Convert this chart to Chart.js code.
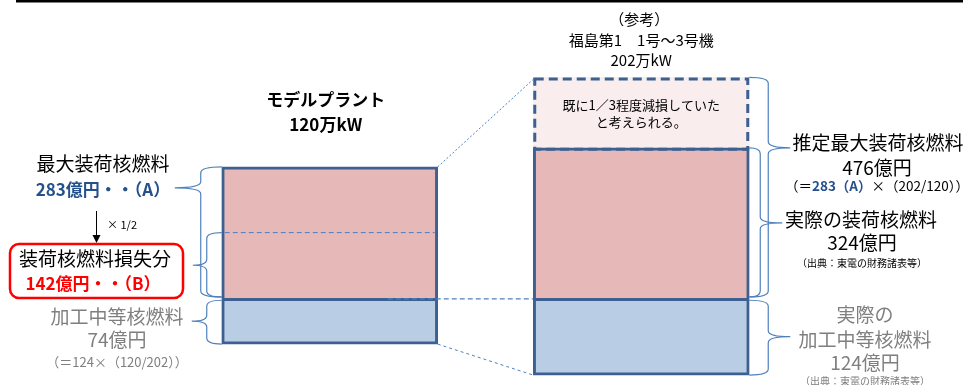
<!DOCTYPE html>
<html>
<head>
<meta charset="utf-8">
<script src="https://cdn.jsdelivr.net/npm/chart.js@4.4.1/dist/chart.umd.min.js"></script>
<style>
body{margin:0;background:#fff;}
#wrap{width:963px;height:385px;position:relative;}
</style>
</head>
<body>
<div id="wrap"><canvas id="fuelChart"></canvas></div>
<script>
// 単位: 億円
const plants = ['モデルプラント', '福島第1 1号～3号機'];
const capacity = [120, 202];          // 万kW
const loadedFuel = [283, 324];        // 装荷核燃料 (左: 最大 A, 右: 実際)
const estimatedMax = [null, 476];     // 推定最大装荷核燃料
const processedFuel = [74, 124];      // 加工中等核燃料
const lossB = 142;                    // 装荷核燃料損失分 (B)

const FONT = '"Noto Sans CJK JP", "Noto Sans", sans-serif';
const NAVY = '#3D6090';
const LINE = '#4F81BD';
const TEXT_NAVY = '#24508C';
const GRAY = '#7F7F7F';

function font(size, bold){
  return (bold ? 'bold ' : '') + size + 'px ' + FONT;
}

function txt(ctx, s, x, y, size, opt){
  opt = opt || {};
  ctx.save();
  ctx.font = font(size, opt.bold);
  ctx.fillStyle = opt.color || '#000';
  ctx.textAlign = opt.align || 'center';
  ctx.textBaseline = 'middle';
  ctx.fillText(s, x, y);
  ctx.restore();
}

// 色の違う文字列を並べて中央揃え
function txtParts(ctx, parts, cx, y, size){
  ctx.save();
  ctx.textBaseline = 'middle';
  ctx.textAlign = 'left';
  let total = 0;
  parts.forEach(p => { ctx.font = font(size, p.bold); total += ctx.measureText(p.s).width; });
  let x = cx - total / 2;
  parts.forEach(p => {
    ctx.font = font(size, p.bold);
    ctx.fillStyle = p.color || '#000';
    ctx.fillText(p.s, x, y);
    x += ctx.measureText(p.s).width;
  });
  ctx.restore();
}

function barBox(chart, ds, i){
  const el = chart.getDatasetMeta(ds).data[i];
  return {
    l: el.x - el.width / 2, r: el.x + el.width / 2,
    top: Math.min(el.y, el.base), bot: Math.max(el.y, el.base)
  };
}

function brace(ctx, x0, xv, xt, top, bot, tip){
  const r = 6;
  ctx.beginPath();
  ctx.moveTo(x0, top);
  ctx.quadraticCurveTo(xv, top, xv, top + r);
  ctx.lineTo(xv, tip - r);
  ctx.quadraticCurveTo(xv, tip, xt, tip);
  ctx.quadraticCurveTo(xv, tip, xv, tip + r);
  ctx.lineTo(xv, bot - r);
  ctx.quadraticCurveTo(xv, bot, x0, bot);
  ctx.stroke();
}

function dashLine(ctx, x1, y1, x2, y2, dash, w){
  ctx.save();
  ctx.strokeStyle = LINE;
  ctx.lineWidth = w || 1;
  ctx.setLineDash(dash);
  ctx.beginPath();
  ctx.moveTo(x1, y1);
  ctx.lineTo(x2, y2);
  ctx.stroke();
  ctx.restore();
}

const diagramPlugin = {
  id: 'diagram',
  afterDatasetsDraw(chart){
    const ctx = chart.ctx;
    const yTop = chart.scales.yTop;

    const blueL = barBox(chart, 0, 0), blueR = barBox(chart, 0, 1);
    const pinkL = barBox(chart, 1, 0), pinkR = barBox(chart, 1, 1);
    const dashR = barBox(chart, 2, 1);

    // 上の黒線
    ctx.save();
    ctx.fillStyle = '#000';
    ctx.fillRect(16, 0, chart.width - 16, 2.5);
    ctx.restore();

    // 推定最大部分の破線枠
    ctx.save();
    ctx.strokeStyle = NAVY;
    ctx.lineWidth = 3;
    ctx.setLineDash([9, 5]);
    ctx.strokeRect(dashR.l + 1.5, dashR.top + 1.5, dashR.r - dashR.l - 3, dashR.bot - dashR.top);
    ctx.restore();

    // 左の損失分の境界
    const yB = yTop.getPixelForValue(loadedFuel[0] - lossB);
    dashLine(ctx, pinkL.l + 3, yB, pinkL.r - 3, yB, [5, 3], 1);

    // 接続線
    dashLine(ctx, pinkL.r, pinkL.top, dashR.l + 1, dashR.top + 1, [2, 2], 1);
    dashLine(ctx, pinkL.r - 50, pinkL.bot + 1, pinkR.l, pinkR.bot + 1, [5, 3], 1.3);
    dashLine(ctx, blueL.r, blueL.bot, blueR.l, blueR.bot, [3, 3], 1);

    // 中かっこ
    ctx.save();
    ctx.strokeStyle = LINE;
    ctx.lineWidth = 1.2;
    brace(ctx, pinkL.l, pinkL.l - 21, pinkL.l - 47, pinkL.top, pinkL.bot - 1, pinkL.top + 21);
    brace(ctx, pinkL.l, pinkL.l - 15, pinkL.l - 29, yB, pinkL.bot - 1, (yB + pinkL.bot) / 2);
    brace(ctx, blueL.l, blueL.l - 15, blueL.l - 30, blueL.top + 2, blueL.bot, (blueL.top + blueL.bot) / 2);
    brace(ctx, dashR.r, dashR.r + 19, dashR.r + 41, dashR.top, pinkR.bot - 1, pinkR.top);
    brace(ctx, pinkR.r, pinkR.r + 11, pinkR.r + 33, pinkR.top, pinkR.bot - 1, (pinkR.top + pinkR.bot) / 2);
    brace(ctx, blueR.r, blueR.r + 19, blueR.r + 41, blueR.top + 2, blueR.bot, (blueR.top + blueR.bot) / 2);
    ctx.restore();

    // 中央タイトル
    const cxL = (pinkL.l + pinkL.r) / 2, cxR = (pinkR.l + pinkR.r) / 2;
    txt(ctx, plants[0], cxL - 4, 100, 17, {bold: true});
    txt(ctx, capacity[0] + '万kW', cxL - 4, 125, 17, {bold: true});
    txt(ctx, '（参考）', cxR - 2, 19, 15);
    txt(ctx, '福島第1　1号～3号機', cxR, 40, 15);
    txt(ctx, capacity[1] + '万kW', cxR, 60, 15);

    const cyD = (dashR.top + dashR.bot) / 2;
    txt(ctx, '既に1／3程度減損していた', cxR, cyD - 8, 13);
    txt(ctx, 'と考えられる。', cxR, cyD + 9, 13);

    // 左の説明
    txt(ctx, '最大装荷核燃料', 103, 164, 19);
    txt(ctx, loadedFuel[0] + '億円・・（A）', 103, 190, 17, {bold: true, color: TEXT_NAVY});

    ctx.save();
    ctx.strokeStyle = '#000';
    ctx.fillStyle = '#000';
    ctx.lineWidth = 1;
    ctx.beginPath();
    ctx.moveTo(96.5, 211);
    ctx.lineTo(96.5, 236);
    ctx.stroke();
    ctx.beginPath();
    ctx.moveTo(92.5, 235);
    ctx.lineTo(100.5, 235);
    ctx.lineTo(96.5, 243);
    ctx.closePath();
    ctx.fill();
    ctx.restore();
    txt(ctx, '× 1/2', 107, 225, 11, {align: 'left'});

    ctx.save();
    ctx.strokeStyle = '#FF0000';
    ctx.lineWidth = 2.5;
    ctx.beginPath();
    ctx.roundRect(10, 244, 173, 54, 9);
    ctx.stroke();
    ctx.restore();
    txt(ctx, '装荷核燃料損失分', 95, 259, 19);
    txt(ctx, lossB + '億円・・（B）', 93, 284, 17, {bold: true, color: '#FF0000'});

    txt(ctx, '加工中等核燃料', 117, 317, 19, {color: GRAY});
    txt(ctx, processedFuel[0] + '億円', 117, 340, 19, {color: GRAY});
    txt(ctx, '（＝' + processedFuel[1] + '×（' + capacity[0] + '/' + capacity[1] + '））', 117, 362, 13, {color: GRAY});

    // 右の説明
    txt(ctx, '推定最大装荷核燃料', 878, 143, 19);
    txt(ctx, estimatedMax[1] + '億円', 877, 168, 19);
    txtParts(ctx, [
      {s: '（＝'},
      {s: loadedFuel[0] + '（A）', bold: true, color: TEXT_NAVY},
      {s: '×（' + capacity[1] + '/' + capacity[0] + '））'}
    ], 877, 186, 13.5);

    txt(ctx, '実際の装荷核燃料', 861, 220, 19);
    txt(ctx, loadedFuel[1] + '億円', 862, 243, 19);
    txt(ctx, '（出典：東電の財務諸表等）', 862, 263, 10);

    txt(ctx, '実際の', 865, 315, 19, {color: GRAY});
    txt(ctx, '加工中等核燃料', 865, 340, 19, {color: GRAY});
    txt(ctx, processedFuel[1] + '億円', 865, 363, 19, {color: GRAY});
    txt(ctx, '（出典：東電の財務諸表等）', 865, 381, 10, {color: GRAY});
  }
};

const ctx = document.getElementById('fuelChart').getContext('2d');

new Chart(ctx, {
  type: 'bar',
  data: {
    labels: plants,
    datasets: [{
      label: '加工中等核燃料',
      data: processedFuel.map(v => [-v, 0]),
      yAxisID: 'yBot',
      backgroundColor: '#B9CDE5',
      borderColor: NAVY,
      borderWidth: 3,
      borderSkipped: false,
      grouped: false,
      barThickness: 216
    }, {
      label: '装荷核燃料',
      data: loadedFuel.map(v => [0, v]),
      yAxisID: 'yTop',
      backgroundColor: '#E6B8B7',
      borderColor: NAVY,
      borderWidth: 3,
      borderSkipped: 'start',
      grouped: false,
      barThickness: 216
    }, {
      label: '推定最大装荷核燃料',
      data: estimatedMax.map((v, i) => v == null ? null : [loadedFuel[i], v]),
      yAxisID: 'yTop',
      backgroundColor: '#F9EDED',
      borderWidth: 0,
      grouped: false,
      barThickness: 216
    }]
  },
  options: {
    responsive: true,
    maintainAspectRatio: false,
    animation: false,
    layout: { padding: { left: 174, right: 166, top: 20, bottom: 0 } },
    plugins: {
      legend: { display: false },
      tooltip: { enabled: false }
    },
    scales: {
      x: { display: false },
      yTop: { display: false, stacked: false, min: -188, max: 600 },
      yBot: { display: false, stacked: false, min: -140, max: 449 }
    }
  },
  plugins: [diagramPlugin]
});
</script>
</body>
</html>
